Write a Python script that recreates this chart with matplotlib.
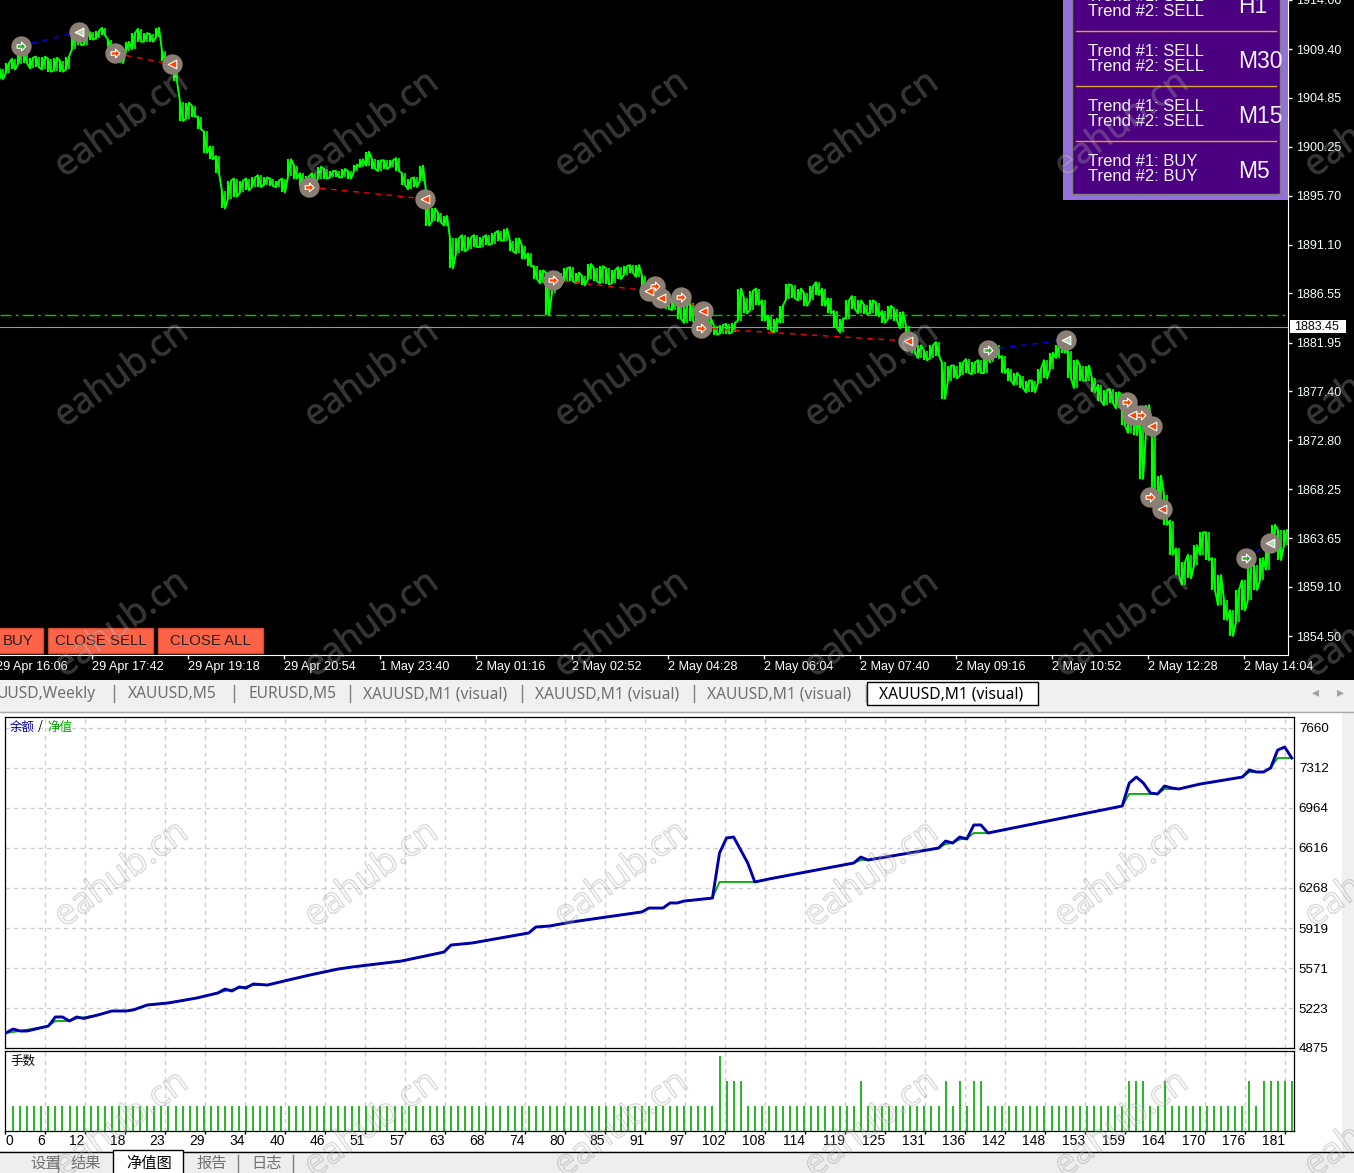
import numpy as np
import matplotlib
matplotlib.use("Agg")
import matplotlib.pyplot as plt
from matplotlib.patches import Rectangle
from matplotlib.path import Path
import matplotlib.patheffects as pe

W, H = 1354, 1173
CJK = ["Noto Sans CJK SC", "DejaVu Sans"]
UI = "Liberation Sans"

# price chart, one high/low pair every 6 one-minute bars
price_high = [1907.5,1908.1,1908.5,1909.0,1909.0,1908.6,1908.7,1908.7,1908.5,1908.6,1908.3,1908.7,
    1910.5,1910.9,1910.9,1911.0,1911.1,1911.4,1910.3,1909.8,1909.2,1910.1,1910.9,1911.3,
    1910.9,1910.8,1911.4,1909.2,1908.7,1907.5,1904.5,1904.4,1904.1,1903.1,1901.7,1900.3,
    1899.4,1896.1,1897.1,1897.3,1897.1,1897.3,1897.4,1897.6,1897.4,1897.3,1897.1,1897.3,
    1899.1,1898.5,1897.8,1897.5,1897.8,1898.4,1898.2,1898.0,1898.0,1898.2,1898.0,1898.6,
    1899.1,1899.8,1899.1,1899.0,1899.0,1899.0,1899.2,1897.8,1897.3,1897.4,1898.5,1896.1,
    1894.5,1894.1,1893.8,1891.7,1891.7,1892.0,1891.8,1892.0,1891.8,1892.0,1892.2,1892.4,
    1892.6,1891.5,1891.7,1891.0,1890.3,1889.1,1888.7,1888.5,1888.5,1888.5,1888.9,1889.0,
    1888.5,1888.2,1889.3,1888.9,1889.1,1888.9,1888.7,1889.0,1889.1,1889.2,1889.2,1888.2,
    1887.5,1887.3,1886.8,1886.2,1886.1,1885.9,1885.4,1885.7,1885.0,1884.7,1884.2,1883.5,
    1883.6,1883.7,1883.8,1887.0,1886.1,1886.8,1887.0,1885.9,1884.5,1884.2,1885.4,1887.4,
    1887.3,1887.0,1886.6,1887.2,1887.6,1887.0,1886.1,1884.9,1884.2,1885.9,1886.3,1885.9,
    1885.5,1885.9,1885.7,1884.9,1885.4,1885.1,1884.8,1883.5,1882.3,1881.7,1881.2,1881.7,
    1882.0,1880.1,1879.8,1879.8,1880.1,1880.4,1880.1,1880.3,1880.7,1881.4,1881.7,1880.7,
    1879.5,1879.1,1878.8,1878.4,1878.4,1879.5,1880.3,1881.0,1881.7,1882.1,1881.2,1880.3,
    1879.8,1879.8,1878.6,1878.0,1877.5,1877.6,1877.3,1877.0,1876.7,1876.1,1875.4,1876.1,
    1874.2,1869.5,1867.7,1865.3,1862.7,1861.4,1862.1,1863.0,1864.2,1864.2,1861.8,1860.2,
    1857.9,1856.9,1858.8,1859.7,1861.1,1861.1,1861.8,1863.0,1864.9,1864.4,1864.4]
price_low = [1906.6,1907.2,1907.5,1908.0,1908.1,1907.6,1907.7,1907.5,1907.3,1907.4,1907.3,1907.5,
    1909.4,1909.8,1909.8,1910.3,1910.4,1910.7,1909.6,1908.8,1908.1,1909.2,1909.4,1910.1,
    1910.1,1910.1,1910.5,1908.3,1907.8,1906.4,1902.7,1902.9,1903.1,1901.9,1899.7,1899.1,
    1897.8,1894.5,1895.4,1895.6,1896.0,1896.2,1896.5,1896.5,1896.7,1896.6,1896.5,1896.0,
    1897.5,1897.3,1896.6,1896.5,1896.9,1897.3,1897.3,1897.4,1897.4,1897.4,1897.3,1898.0,
    1898.4,1898.5,1898.2,1898.0,1898.2,1898.4,1898.0,1896.7,1896.3,1896.5,1897.1,1892.9,
    1893.3,1893.2,1892.9,1888.9,1890.3,1890.5,1890.7,1890.9,1890.9,1891.1,1891.2,1891.5,
    1891.5,1890.5,1890.3,1889.8,1889.1,1887.9,1887.5,1884.5,1886.6,1887.4,1887.7,1887.7,
    1887.5,1887.3,1887.9,1887.7,1887.5,1887.4,1887.5,1887.9,1888.3,1888.5,1888.1,1886.8,
    1886.2,1885.7,1885.3,1885.1,1885.0,1884.2,1883.8,1884.0,1883.5,1882.6,1882.9,1882.7,
    1882.8,1882.8,1882.9,1884.0,1884.7,1885.0,1885.5,1884.0,1883.1,1882.9,1883.8,1886.0,
    1886.1,1885.9,1885.4,1885.9,1886.4,1885.4,1884.7,1883.3,1882.9,1884.2,1885.1,1884.7,
    1884.6,1884.7,1884.4,1883.8,1884.2,1884.0,1883.3,1881.7,1881.0,1880.5,1880.3,1880.5,
    1880.7,1876.7,1878.4,1878.6,1878.9,1879.1,1879.0,1879.1,1879.1,1880.1,1880.5,1879.1,
    1878.4,1878.0,1877.7,1877.3,1877.3,1878.2,1878.6,1879.5,1880.5,1881.0,1878.6,1877.7,
    1878.4,1878.4,1877.3,1876.5,1876.1,1876.3,1875.8,1874.2,1873.5,1873.3,1869.2,1873.5,
    1867.2,1865.8,1864.9,1862.1,1860.2,1859.3,1859.9,1861.1,1862.1,1861.6,1858.8,1857.4,
    1856.0,1854.5,1855.8,1856.9,1857.9,1858.8,1859.7,1860.7,1862.7,1861.6,1863.0]

price_ticks = [1914.00,1909.40,1904.85,1900.25,1895.70,1891.10,1886.55,1881.95,1877.40,1872.80,
    1868.25,1863.65,1859.10,1854.50]
time_labels = ["29 Apr 16:06","29 Apr 17:42","29 Apr 19:18","29 Apr 20:54","1 May 23:40","2 May 01:16",
    "2 May 02:52","2 May 04:28","2 May 06:04","2 May 07:40","2 May 09:16","2 May 10:52","2 May 12:28","2 May 14:04"]
last_price = 1883.45
level_price = 1884.52

# trades: open bar, open price, close bar, close price
buy_trades = [(21,1909.7,79,1911.0),(988,1881.3,1066,1882.2),(1246,1861.8,1270,1863.2)]
sell_trades = [(115,1909.0,172,1908.0),(309,1896.5,425,1895.4),(553,1887.8,649,1886.8),
    (655,1887.2,661,1886.1),(681,1886.2,703,1884.9),(701,1883.3,908,1882.1),
    (1127,1876.4,1132,1875.2),(1141,1875.2,1152,1874.1),(1150,1867.5,1162,1866.4)]

# equity report
equity_trades = [0,1,2,3,6,7,8,9,10,11,13,15,17,18,20,23,27,30,31,32,33,34,35,37,40,43,47,49,56,62,63,66,
    74,75,77,80,90,91,93,94,95,96,100,101,102,103,105,106,108,120,121,122,132,133,134,135,136,137,138,139,
    158,159,160,161,162,163,164,165,166,169,175,176,177,178,179,180,181,182]
equity = [5006,5040,5023,5023,5066,5145,5145,5110,5145,5132,5162,5197,5197,5206,5249,5267,5310,5354,5388,5371,
    5406,5397,5432,5423,5467,5510,5562,5580,5632,5710,5771,5789,5876,5928,5937,5971,6059,6093,6093,6137,6137,
    6154,6180,6572,6703,6711,6485,6320,6346,6485,6537,6511,6615,6676,6659,6711,6694,6816,6816,6746,
    6981,7181,7233,7181,7094,7086,7155,7138,7129,7172,7233,7294,7277,7277,7312,7468,7494,7399]
balance_trades = [0,2,6,7,9,10,13,15,17,18,20,23,27,30,31,33,35,37,40,43,47,49,56,62,63,66,
    74,75,77,80,90,91,93,94,95,96,100,101,106,108,120,121,122,132,133,134,135,136,137,139,
    158,159,163,164,166,169,175,176,178,179,180,182]
balance = [5006,5023,5066,5110,5110,5132,5162,5197,5197,5206,5249,5267,5310,5354,5371,5397,5423,5423,5467,5510,
    5562,5580,5632,5710,5771,5789,5876,5928,5937,5971,6059,6093,6093,6137,6137,6154,6180,6320,6320,6346,6485,
    6511,6511,6615,6650,6659,6690,6700,6746,6746,6981,7086,7086,7129,7129,7172,7233,7277,7277,7312,7399,7399]
equity_ticks = [7660,7312,6964,6616,6268,5919,5571,5223,4875]

n_trades = 182
lot_2_trades = [102,103,104,121,133,135,137,138,159,160,161,164,176,178,179,180,181,182]
lot_3_trades = [101]
trade_labels = [0,6,12,18,23,29,34,40,46,51,57,63,68,74,80,85,91,97,102,108,114,119,125,131,136,142,148,153,
    159,164,170,176,181]

chart_tabs = ["UUSD,Weekly","XAUUSD,M5","EURUSD,M5","XAUUSD,M1 (visual)","XAUUSD,M1 (visual)","XAUUSD,M1 (visual)"]
bottom_tabs = ["设置","结果","净值图","报告","日志"]
panel_rows = [("SELL","SELL","H1"),("SELL","SELL","M30"),("SELL","SELL","M15"),("BUY","BUY","M5")]


def px_axes(x0, y0, x1, y1, **kw):
    return fig.add_axes([x0/W, 1-y1/H, (x1-x0)/W, (y1-y0)/H], **kw)


def box(ax, x0, y0, x1, y1, **kw):
    ax.add_patch(Rectangle((x0, y0), x1-x0, y1-y0, **kw))


fig = plt.figure(figsize=(W/100, H/100), dpi=100, facecolor="white")

back = px_axes(0, 0, W, H, zorder=0)
back.set_xlim(0, W)
back.set_ylim(H, 0)
back.axis("off")
box(back, 0, 0, W, 680, fc="black", ec="none")
box(back, 0, 680, W, 712, fc="#f0f0f0", ec="none")
box(back, 1342, 712, W, 1151, fc="#f0f0f0", ec="none")
box(back, 0, 1151, W, H, fc="#eeeeee", ec="none")
back.plot([0, W], [712, 712], color="#a8a8a8", lw=1)
back.plot([0, W], [1151.5, 1151.5], color="black", lw=1)

# price chart
ax = px_axes(0, 0, 1288, 655, zorder=1, facecolor="black")
ax.set_xlim(0, 1288)
ax.set_ylim(1913.88-0.09337*655, 1913.88)
bars = np.arange(len(price_high))*6
zig_x = []
zig_y = []
last = price_high[0]
for b, hi, lo in zip(bars, price_high, price_low):
    # walk each bar starting from whichever extreme is nearer the previous one
    first, second = (hi, lo) if abs(hi-last) < abs(lo-last) else (lo, hi)
    zig_x += [b, b+3]
    zig_y += [first, second]
    last = second
ax.vlines(bars, price_low, price_high, color="#00ff00", lw=1.6, zorder=2)
ax.vlines(bars+3, price_low, price_high, color="#00ff00", lw=1.2, zorder=2)
ax.plot(zig_x, zig_y, color="#00ff00", lw=1.4, zorder=2)
ax.axhline(level_price, color="#00c800", lw=1, ls=(0, (8, 3, 2, 3)), zorder=1)
ax.axhline(last_price, color="#8a9bb0", lw=0.8, zorder=1)

arrow = Path([(-1,-.4),(0,-.4),(0,-1),(1,0),(0,1),(0,.4),(-1,.4),(-1,-.4)], closed=True)
for trades, line_col, open_col, close_col in [(buy_trades, "#0000ff", "#30b030", "#b8d8b8"),
                                              (sell_trades, "#ff0000", "#ff4500", "#ff4500")]:
    for x0, p0, x1, p1 in trades:
        ax.plot([x0, x1], [p0, p1], color=line_col, lw=1, ls=(0, (4, 4)), zorder=3)
        ax.scatter([x0, x1], [p0, p1], s=215, color="#8b7e72", lw=0, zorder=4)
    xs = [t[0] for t in trades]
    ys = [t[1] for t in trades]
    ax.scatter(xs, ys, s=40, marker=arrow, color=open_col, edgecolor="white", lw=0.8, zorder=5)
    xs = [t[2] for t in trades]
    ys = [t[3] for t in trades]
    ax.scatter(xs, ys, s=38, marker="<", color=close_col, edgecolor="white", lw=0.8, zorder=5)

ax.yaxis.tick_right()
ax.set_yticks(price_ticks)
ax.set_yticklabels(["%.2f" % p for p in price_ticks], color="#f0ffff", fontsize=9, family=UI)
ax.tick_params(axis="y", length=3, width=1, color="white", pad=2.5)
ax.set_xticks(np.arange(1, 14)*96-4)
ax.set_xticklabels([])
ax.tick_params(axis="x", length=3, width=1, color="white", direction="out")
for s in ["top", "left"]:
    ax.spines[s].set_visible(False)
for s in ["right", "bottom"]:
    ax.spines[s].set_color("white")
for i, lab in enumerate(time_labels):
    back.text(-4+96*i, 667, lab, color="white", fontsize=9.1, family=UI, va="center", ha="left")

# equity chart
eq = px_axes(5, 717, 1294, 1048, zorder=1, facecolor="white")
scale = 7.065
off = 5.94
eq.set_xlim((5-off)/scale, (1294-off)/scale)
eq.set_ylim(4875, 4875+331*8.703)
grid_x = (5+40*np.arange(len(trade_labels))-off)/scale
eq.set_xticks(grid_x)
eq.set_xticklabels([])
eq.set_yticks(equity_ticks)
eq.set_yticklabels(equity_ticks, fontsize=9.6, family=UI, color="black")
eq.yaxis.tick_right()
eq.tick_params(length=0, pad=3.5)
eq.grid(True, color="#cccccc", ls=(0, (3, 3)), lw=1)
eq.set_axisbelow(True)
eq.plot(balance_trades, balance, color="#00aa00", lw=1.3, zorder=3)
eq.plot(equity_trades, equity, color="#0000aa", lw=2.1, zorder=4)
for s in eq.spines.values():
    s.set_linewidth(0.9)

# lots
vol = px_axes(5, 1051, 1294, 1131, zorder=1, facecolor="white")
vol.set_xlim(eq.get_xlim())
vol.set_ylim(0, 80/2500)
lots = np.full(n_trades, 0.01)
lots[np.array(lot_2_trades)-1] = 0.02
lots[np.array(lot_3_trades)-1] = 0.03
vol.vlines(np.arange(1, n_trades+1), 0, lots, color="#00aa00", lw=1.2, zorder=3)
vol.set_xticks(grid_x)
vol.set_xticklabels(trade_labels, fontsize=10, family=UI, ha="right")
vol.xaxis.get_ticklabels()[0].set_ha("left")
vol.set_yticks([])
vol.tick_params(axis="x", length=2, width=1, pad=0)
vol.grid(True, axis="x", color="#cccccc", ls=(0, (3, 3)), lw=1)
vol.set_axisbelow(True)
for s in vol.spines.values():
    s.set_linewidth(0.9)

# everything drawn on top in pixel coordinates
ui = px_axes(0, 0, W, H, zorder=5)
ui.set_xlim(0, W)
ui.set_ylim(H, 0)
ui.axis("off")
ui.patch.set_alpha(0)

# trend panel
box(ui, 1063, -5, 1288, 200, fc="#9370db", ec="none")
box(ui, 1072, -5, 1280, 193.5, fc="#4b0082", ec="#808080", lw=1)
for y in [30.5, 85.5, 140.5]:
    ui.plot([1076, 1276], [y, y], color="#daa520", lw=1)
for i, (t1, t2, tf) in enumerate(panel_rows):
    y0 = -3.5+55*i
    ui.text(1088, y0, "Trend #1: "+t1, color="#f5f5ff", fontsize=12, family=UI, va="center")
    ui.text(1088, y0+15, "Trend #2: "+t2, color="#f5f5ff", fontsize=12, family=UI, va="center")
    ui.text(1238, y0+10, tf, color="#f5f5ff", fontsize=16.5, family=UI, va="center")

# buttons
for x0, x1, lab in [(-5, 43, "BUY"), (48, 153, "CLOSE SELL"), (158, 263, "CLOSE ALL")]:
    box(ui, x0, 628, x1, 653, fc="#ff6347", ec="#d04a30", lw=1)
    ui.text((x0+x1)/2 if x0 > 0 else 18, 641, lab, color="#222222", fontsize=10.8, family=UI, ha="center", va="center")

# last price tag
box(ui, 1290, 320, 1346, 333, fc="white", ec="none")
ui.text(1294, 326.5, "%.2f" % last_price, color="black", fontsize=9, family=UI, va="center")

# chart tabs
for x, lab in zip([-3, 128, 248, 363, 535, 707], chart_tabs):
    ui.text(x, 694.5, lab, color="#707070", fontsize=11.2, family="Noto Sans", va="center")
for x in [114, 234, 350, 522, 694, 866]:
    ui.plot([x, x], [685, 702], color="#808080", lw=1)
box(ui, 867, 682, 1038, 705, fc="white", ec="black", lw=1)
ui.text(879, 694.5, "XAUUSD,M1 (visual)", color="black", fontsize=11.2, family="Noto Sans", va="center")
ui.text(1315, 692, "◂", color="#a0a0a0", fontsize=10, family="DejaVu Sans", ha="center", va="center")
ui.text(1340, 692, "▸", color="#a0a0a0", fontsize=10, family="DejaVu Sans", ha="center", va="center")

# legends inside the report
ui.text(10, 727, "余额", color="#0000aa", fontsize=9, family=CJK, va="center")
ui.text(38, 727, "/", color="black", fontsize=9, family=CJK, va="center")
ui.text(47, 727, "净值", color="#00aa00", fontsize=9, family=CJK, va="center")
ui.text(10, 1061, "手数", color="black", fontsize=9, family=CJK, va="center")

# bottom tabs
box(ui, 113, 1150, 183, H+5, fc="white", ec="black", lw=1)
for x, lab, col in zip([30, 71, 126, 196, 251], bottom_tabs, ["#707070", "#707070", "black", "#707070", "#707070"]):
    ui.text(x, 1163.5, lab, color=col, fontsize=11, family=CJK, va="center")
for x in [58, 238, 293]:
    ui.plot([x, x], [1155, 1172], color="#808080", lw=1)

# watermark
for row in [125, 375, 625, 875, 1125]:
    for col in [122, 372, 622, 872, 1122, 1372]:
        ui.text(col, row, "eahub.cn", color=(1, 1, 1, 0.1), fontsize=26, family="Open Sans", rotation=36,
                ha="center", va="center", rotation_mode="anchor",
                path_effects=[pe.Stroke(linewidth=1, foreground=(0.4, 0.4, 0.4, 0.25)), pe.Normal()])

fig.savefig("out.png", dpi=100)
